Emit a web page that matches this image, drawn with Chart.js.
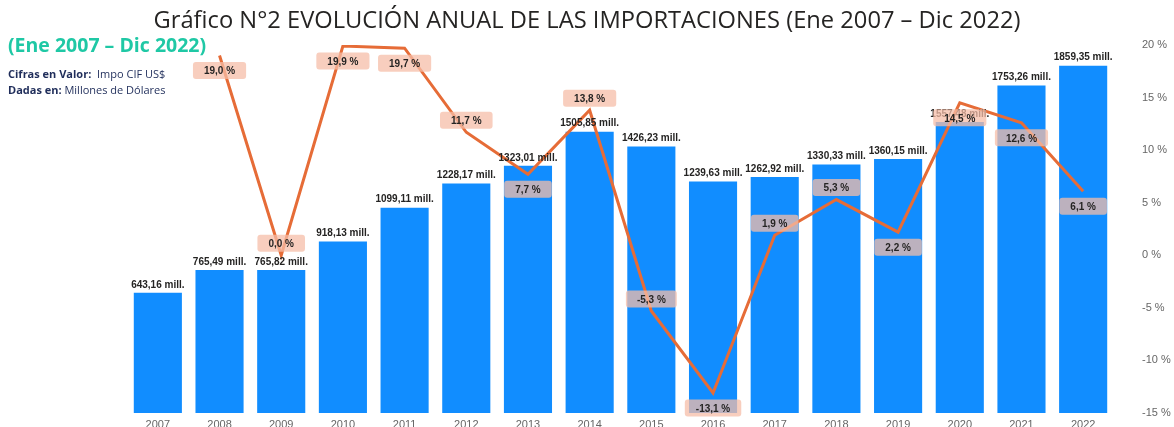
<!DOCTYPE html>
<html lang="es">
<head>
<meta charset="utf-8">
<title>Evolución anual de las importaciones</title>
<script src="https://cdn.jsdelivr.net/npm/chart.js@4.4.1/dist/chart.umd.min.js"></script>
<style>
  html, body { margin: 0; padding: 0; background: #fff; }
  body { width: 1174px; height: 427px; position: relative; overflow: hidden; font-family: 'Open Sans', 'Noto Sans', sans-serif; }
  #wrap { position: absolute; left: 0; top: 0; width: 1174px; height: 427px; }
  .title { position: absolute; top: 3px; left: 0; width: 1174px; text-align: center; font-size: 23.7px; color: #252423; white-space: nowrap; }
  .subtitle { position: absolute; top: 31px; left: 8px; font-size: 19.5px; font-weight: 700; color: #1fc8a5; white-space: nowrap; }
  .note { position: absolute; left: 8px; font-size: 11px; color: #1f2d5a; white-space: nowrap; }
  .note b { font-weight: 700; }
</style>
</head>
<body>
<div id="wrap"><canvas id="importChart" width="1174" height="427"></canvas></div>
<div class="title">Gráfico N°2 EVOLUCIÓN ANUAL DE LAS IMPORTACIONES (Ene 2007 – Dic 2022)</div>
<div class="subtitle">(Ene 2007 – Dic 2022)</div>
<div class="note" style="top:66px"><b>Cifras en Valor:</b>&nbsp; Impo CIF US$</div>
<div class="note" style="top:82px"><b>Dadas en:</b> Millones de Dólares</div>
<script>
  const years = ['2007', '2008', '2009', '2010', '2011', '2012', '2013', '2014', '2015', '2016', '2017', '2018', '2019', '2020', '2021', '2022'];
  const imports = [643.16, 765.49, 765.82, 918.13, 1099.11, 1228.17, 1323.01, 1505.85, 1426.23, 1239.63, 1262.92, 1330.33, 1360.15, 1557.48, 1753.26, 1859.35];
  const growth = [null, 19.0, 0.0, 19.9, 19.7, 11.7, 7.7, 13.8, -5.3, -13.1, 1.9, 5.3, 2.2, 14.5, 12.6, 6.1];
  const pctTicks = [-15, -10, -5, 0, 5, 10, 15, 20];
  // where each growth label sits relative to its point
  const growthLabelSide = ['', 'below', 'above', 'below', 'below', 'above', 'below', 'above', 'above', 'below', 'above', 'above', 'below', 'below', 'below', 'below'];

  const colors = {
    bar: '#118dff',
    line: '#e66c37',
    labelBg: 'rgba(245, 190, 168, 0.75)',
    text: '#252423',
    tick: '#666666'
  };

  const fmt = (v, d) => v.toFixed(d).replace('.', ',');

  const valueLabels = {
    id: 'valueLabels',
    afterDatasetsDraw(chart) {
      const ctx = chart.ctx;
      const barMeta = chart.getDatasetMeta(0);
      const lineMeta = chart.getDatasetMeta(1);

      ctx.save();
      ctx.font = 'bold 10px "Liberation Sans", Arial, sans-serif';
      ctx.fillStyle = colors.text;
      ctx.textAlign = 'center';
      ctx.textBaseline = 'bottom';
      barMeta.data.forEach((bar, i) => {
        ctx.fillText(fmt(imports[i], 2) + ' mill.', bar.x, bar.y - 3);
      });

      ctx.textBaseline = 'middle';
      lineMeta.data.forEach((pt, i) => {
        if (growth[i] === null) {
          return;
        }
        const text = fmt(growth[i], 1) + ' %';
        const w = ctx.measureText(text).width + 22;
        const h = 17;
        const cy = growthLabelSide[i] === 'above' ? pt.y - 12 : pt.y + 15;
        ctx.fillStyle = colors.labelBg;
        ctx.beginPath();
        ctx.roundRect(pt.x - w / 2, cy - h / 2, w, h, 3);
        ctx.fill();
        ctx.fillStyle = colors.text;
        ctx.fillText(text, pt.x, cy + 1);
      });
      ctx.restore();
    }
  };

  new Chart(document.getElementById('importChart'), {
    data: {
      labels: years,
      datasets: [
        {
          type: 'bar',
          label: 'Importaciones',
          data: imports,
          backgroundColor: colors.bar,
          categoryPercentage: 1,
          barPercentage: 0.78,
          yAxisID: 'y',
          order: 2
        },
        {
          type: 'line',
          label: 'Variación %',
          data: growth,
          borderColor: colors.line,
          borderWidth: 3,
          pointRadius: 0,
          tension: 0,
          yAxisID: 'y1',
          order: 1
        }
      ]
    },
    plugins: [valueLabels],
    options: {
      responsive: false,
      animation: false,
      layout: { padding: { left: 127, top: 45, right: 0, bottom: 0 } },
      plugins: {
        legend: { display: false },
        tooltip: { enabled: false }
      },
      scales: {
        x: {
          grid: { display: false },
          border: { display: false },
          ticks: { color: colors.tick, font: { size: 11 }, padding: -3, maxRotation: 0 },
          afterFit(scale) { scale.height = 14; }
        },
        y: {
          display: false,
          min: 0,
          max: 1970
        },
        y1: {
          position: 'right',
          min: -15,
          max: 20,
          grid: { display: false },
          border: { display: false },
          afterBuildTicks(scale) { scale.ticks = pctTicks.map(v => ({ value: v })); },
          afterFit(scale) {
            scale.width = 60;
            scale.paddingTop = 0;
            scale.paddingBottom = 0;
          },
          ticks: {
            color: colors.tick,
            font: { size: 11 },
            padding: 20,
            callback: v => v + ' %'
          }
        }
      }
    }
  });
</script>
</body>
</html>
